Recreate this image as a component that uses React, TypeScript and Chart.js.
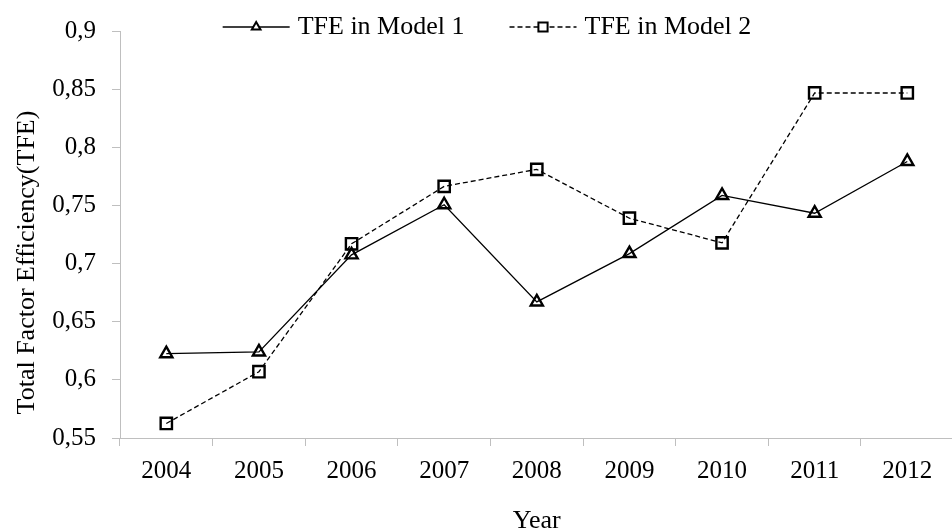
import React, { useEffect, useRef } from 'react';
import { Chart, registerables } from 'chart.js';
import { drawPoint } from 'chart.js/helpers';

Chart.register(...registerables);

const years = ['2004', '2005', '2006', '2007', '2008', '2009', '2010', '2011', '2012'];
const model1 = [0.6225, 0.624, 0.7075, 0.7506, 0.667, 0.7086, 0.7586, 0.7433, 0.7878];
const model2 = [0.5625, 0.607, 0.717, 0.7664, 0.781, 0.739, 0.7178, 0.8467, 0.8467];
const seriesNames = ['TFE in Model 1', 'TFE in Model 2'];
const yTicks = [0.55, 0.6, 0.65, 0.7, 0.75, 0.8, 0.85, 0.9];
const yTickLabels = ['0,55', '0,6', '0,65', '0,7', '0,75', '0,8', '0,85', '0,9'];
const yTitle = 'Total Factor Efficiency(TFE)';
const xTitle = 'Year';

const FONT = "'Liberation Serif', 'Times New Roman', serif";
const AXIS_COLOR = '#bfbfbf';

const legendPlugin = {
  id: 'lineLegend',
  afterDraw(chart: any) {
    const ctx = chart.ctx as CanvasRenderingContext2D;
    ctx.save();
    ctx.font = `26px ${FONT}`;
    ctx.textBaseline = 'middle';
    const lineLen = 67;
    const gapText = 8;
    const gapItem = 45;
    const items = chart.data.datasets.map((ds: any) => ({ ds, w: ctx.measureText(ds.label).width }));
    const total =
      items.reduce((s: number, it: any) => s + lineLen + gapText + it.w, 0) + gapItem * (items.length - 1);
    let x = 487 - total / 2;
    const y = 27;
    items.forEach(({ ds, w }: any) => {
      ctx.beginPath();
      ctx.setLineDash(ds.borderDash || []);
      ctx.lineWidth = ds.borderWidth;
      ctx.strokeStyle = ds.borderColor;
      ctx.moveTo(x, y);
      ctx.lineTo(x + lineLen, y);
      ctx.stroke();
      ctx.setLineDash([]);
      ctx.lineWidth = 2;
      ctx.strokeStyle = ds.pointBorderColor;
      ctx.fillStyle = '#ffffff';
      drawPoint(
        ctx,
        { pointStyle: ds.pointStyle, radius: ds.pointStyle === 'triangle' ? 5 : 6.5, borderWidth: 2, rotation: 0 } as any,
        x + lineLen / 2,
        y
      );
      ctx.fillStyle = '#000000';
      ctx.textAlign = 'left';
      ctx.fillText(ds.label, x + lineLen + gapText, y);
      x += lineLen + gapText + w + gapItem;
    });
    ctx.restore();
  },
};

const yTitlePlugin = {
  id: 'yTitle',
  afterDraw(chart: any) {
    const ctx = chart.ctx as CanvasRenderingContext2D;
    ctx.save();
    ctx.font = `26px ${FONT}`;
    ctx.fillStyle = '#000000';
    ctx.textAlign = 'center';
    ctx.textBaseline = 'alphabetic';
    ctx.translate(33.5, 262.5);
    ctx.rotate(-Math.PI / 2);
    ctx.fillText(yTitle, 0, 0);
    ctx.restore();
  },
};

export default function App() {
  const ref = useRef<HTMLCanvasElement | null>(null);

  useEffect(() => {
    if (!ref.current) return;
    const chart = new Chart(ref.current, {
      type: 'line',
      data: {
        labels: years,
        datasets: [
          {
            label: seriesNames[0],
            data: model1,
            borderColor: '#000000',
            borderWidth: 1.3,
            pointStyle: 'triangle',
            pointRadius: 7,
            pointBorderWidth: 2.4,
            pointBorderColor: '#000000',
            pointBackgroundColor: 'rgba(255,255,255,0)',
            tension: 0,
          },
          {
            label: seriesNames[1],
            data: model2,
            borderColor: '#000000',
            borderWidth: 1.3,
            borderDash: [5, 3],
            pointStyle: 'rect',
            pointRadius: 8,
            pointBorderWidth: 2.4,
            pointBorderColor: '#000000',
            pointBackgroundColor: 'rgba(255,255,255,0)',
            tension: 0,
          },
        ],
      },
      options: {
        responsive: false,
        animation: false,
        layout: { padding: { top: 18, right: 2, bottom: 0, left: 0 } },
        plugins: {
          legend: { display: false },
          tooltip: { enabled: false },
        },
        scales: {
          x: {
            offset: true,
            grid: {
              offset: true,
              drawOnChartArea: false,
              drawTicks: true,
              tickLength: 8,
              color: AXIS_COLOR,
            },
            border: { color: AXIS_COLOR, width: 1 },
            ticks: {
              color: '#000000',
              font: { family: FONT, size: 25 },
              padding: 10,
              autoSkip: false,
              maxRotation: 0,
            },
            title: {
              display: true,
              text: xTitle,
              color: '#000000',
              font: { family: FONT, size: 26 },
              padding: { top: 0, bottom: 1 },
            },
            afterFit: (scale: any) => {
              scale.height = 100;
            },
          },
          y: {
            min: 0.55,
            max: 0.9,
            grid: {
              drawOnChartArea: false,
              drawTicks: true,
              tickLength: 8,
              color: AXIS_COLOR,
            },
            border: { color: AXIS_COLOR, width: 1 },
            ticks: {
              stepSize: 0.05,
              color: '#000000',
              font: { family: FONT, size: 25 },
              padding: 16,
              callback: (v: any) => {
                const i = yTicks.findIndex((t) => Math.abs(t - Number(v)) < 1e-6);
                return i >= 0 ? yTickLabels[i] : '';
              },
            },
            afterFit: (scale: any) => {
              scale.width = 120;
            },
          },
        },
      },
      plugins: [legendPlugin, yTitlePlugin],
    });
    return () => chart.destroy();
  }, []);

  return (
    <div
      style={{
        position: 'fixed',
        left: 0,
        top: 0,
        width: 952,
        height: 531,
        overflow: 'hidden',
        background: '#ffffff',
      }}
    >
      <canvas ref={ref} width={964} height={538} style={{ display: 'block' }} />
    </div>
  );
}
